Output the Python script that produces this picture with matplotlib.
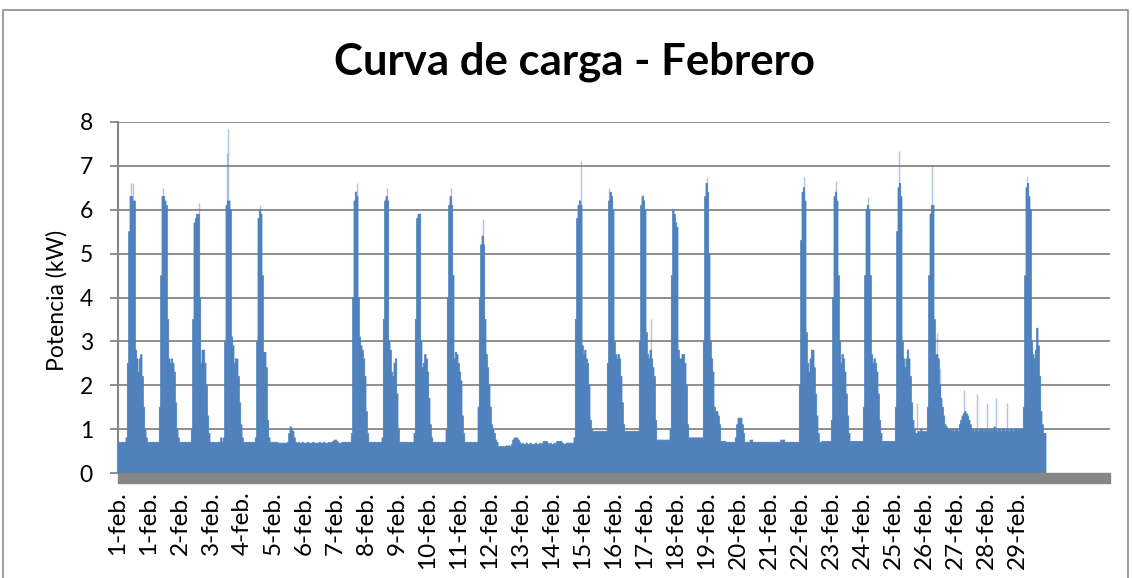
import numpy as np
import matplotlib
matplotlib.use("Agg")
import matplotlib.pyplot as plt
from matplotlib.patches import Rectangle
from matplotlib.lines import Line2D

# ---- data: hourly load (kW) for each day of February ----
d01 = [0.7,0.7,0.7,0.7,0.7,0.7,0.8,2.5,5.5,6.3,6.3,6.2,6.2,2.8,2.6,2.3,2.6,2.7,2.2,1.5,1.0,0.8,0.7,0.7]
d02 = [0.7,0.7,0.7,0.7,0.7,0.7,0.7,1.5,4.5,6.3,6.3,6.2,6.1,3.5,2.6,2.5,2.6,2.5,2.3,1.6,1.0,0.8,0.7,0.7]
d03 = [0.7,0.7,0.7,0.7,0.7,0.7,0.7,1.0,3.5,5.7,5.8,5.9,5.9,4.0,2.5,2.8,2.8,2.5,2.0,1.3,0.9,0.7,0.7,0.7]
d04 = [0.7,0.7,0.7,0.7,0.7,0.8,0.7,0.8,3.0,6.1,6.2,6.2,6.0,3.1,2.9,2.5,2.6,2.6,2.2,1.6,1.1,0.8,0.7,0.7]
d05 = [0.7,0.7,0.7,0.7,0.7,0.7,0.7,0.8,3.0,5.8,6.0,5.9,4.5,2.75,2.75,2.4,1.2,0.8,0.7,0.7,0.7,0.7,0.7,0.7]
d06 = [0.68,0.68,0.68,0.68,0.68,0.68,0.68,0.7,0.9,1.05,1.0,0.95,0.8,0.7,0.68,0.7,0.68,0.68,0.7,0.68,0.68,0.68,0.7,0.68]
d07 = [0.68,0.68,0.7,0.68,0.68,0.68,0.68,0.7,0.68,0.68,0.7,0.68,0.68,0.68,0.7,0.68,0.7,0.72,0.75,0.75,0.72,0.68,0.68,0.68]
d08 = [0.7,0.7,0.7,0.7,0.7,0.7,0.7,0.9,4.0,6.2,6.4,6.3,4.0,3.1,2.9,2.8,2.6,2.2,1.4,0.9,0.7,0.7,0.7,0.7]
d09 = [0.7,0.7,0.7,0.7,0.7,0.7,0.8,3.5,6.2,6.3,6.2,3.0,2.8,2.3,2.2,2.5,2.6,1.8,1.0,0.7,0.7,0.7,0.7,0.7]
d10 = [0.7,0.7,0.7,0.7,0.7,0.7,0.9,3.5,5.8,5.9,5.9,3.0,2.4,2.5,2.7,2.6,2.3,1.7,1.1,0.8,0.7,0.7,0.7,0.7]
d11 = [0.7,0.7,0.7,0.7,0.7,0.7,1.0,4.0,6.1,6.3,6.1,4.5,2.6,2.75,2.7,2.5,2.3,2.1,1.3,0.9,0.7,0.7,0.7,0.7]
d12 = [0.7,0.7,0.7,0.7,0.7,0.7,1.5,4.0,5.2,5.4,5.2,3.5,2.7,2.4,2.0,1.5,1.1,1.0,0.9,0.75,0.7,0.6,0.6,0.6]
d13 = [0.6,0.6,0.6,0.62,0.6,0.62,0.6,0.65,0.75,0.8,0.78,0.8,0.75,0.7,0.65,0.68,0.65,0.65,0.68,0.65,0.65,0.68,0.65,0.65]
d14 = [0.65,0.68,0.65,0.65,0.68,0.65,0.68,0.72,0.72,0.72,0.68,0.65,0.68,0.65,0.65,0.68,0.65,0.72,0.72,0.72,0.72,0.68,0.65,0.65]
d15 = [0.68,0.68,0.68,0.68,0.68,0.68,0.8,3.5,5.8,6.1,6.2,6.1,2.9,2.7,2.8,2.6,2.5,2.0,1.2,1.0,0.95,0.95,0.95,0.95]
d16 = [0.95,0.95,0.95,0.95,0.95,0.95,0.95,2.5,6.2,6.4,6.3,6.0,3.0,2.7,2.6,2.7,2.6,2.2,1.6,1.1,0.95,0.95,0.95,0.95]
d17 = [0.95,0.95,0.95,0.95,0.95,0.95,0.95,3.0,6.1,6.3,6.2,6.0,3.2,2.7,2.6,2.8,2.6,2.4,2.2,1.2,0.75,0.75,0.75,0.75]
d18 = [0.75,0.75,0.75,0.75,0.75,0.75,1.0,4.5,6.0,5.9,5.7,5.6,2.8,2.6,2.6,2.7,2.7,2.5,2.0,1.1,0.8,0.8,0.8,0.8]
d19 = [0.8,0.8,0.8,0.8,0.8,0.8,0.8,3.0,6.3,6.6,6.4,5.0,3.0,2.6,2.3,1.5,1.4,1.4,1.3,1.1,0.72,0.72,0.72,0.72]
d20 = [0.7,0.7,0.7,0.7,0.7,0.7,0.7,0.8,1.1,1.25,1.25,1.25,1.1,0.9,0.7,0.7,0.7,0.7,0.75,0.75,0.7,0.7,0.7,0.7]
d21 = [0.7,0.7,0.7,0.7,0.7,0.7,0.7,0.7,0.7,0.7,0.7,0.7,0.7,0.7,0.7,0.7,0.7,0.75,0.75,0.75,0.7,0.7,0.7,0.7]
d22 = [0.7,0.7,0.7,0.7,0.7,0.7,0.7,2.0,5.3,6.4,6.5,6.2,3.2,2.5,2.3,2.6,2.8,2.8,2.4,1.8,1.3,0.9,0.7,0.7]
d23 = [0.72,0.72,0.72,0.72,0.72,0.72,0.72,1.2,4.0,6.3,6.4,6.2,4.5,3.0,2.5,2.7,2.6,2.3,1.8,1.3,0.9,0.72,0.72,0.72]
d24 = [0.72,0.72,0.72,0.72,0.72,0.72,0.72,1.5,4.5,6.0,6.1,6.0,4.5,2.7,2.5,2.6,2.5,2.3,1.8,1.2,0.9,0.72,0.72,0.72]
d25 = [0.72,0.72,0.72,0.72,0.72,0.72,0.72,1.5,5.5,6.5,6.6,6.3,3.0,2.6,2.4,2.6,2.8,2.6,2.2,1.6,1.2,1.0,0.9,0.9]
d26 = [0.95,0.95,1.0,0.95,0.95,0.95,0.95,1.5,4.5,5.9,6.1,6.1,3.5,2.7,2.7,2.6,2.0,1.7,1.5,1.3,1.1,1.05,1.0,1.0]
d27 = [1.0,0.95,1.0,0.95,1.0,1.0,0.95,1.1,1.2,1.3,1.35,1.4,1.35,1.3,1.2,1.1,1.0,1.0,0.95,1.0,1.0,0.95,1.0,1.0]
d28 = [1.0,0.95,1.0,1.0,0.95,1.0,1.0,0.95,1.0,1.05,1.0,0.95,1.0,1.0,0.95,1.0,1.0,0.95,1.0,1.0,0.95,1.0,1.0,0.95]
d29 = [1.0,1.0,1.0,1.0,1.0,1.0,1.0,1.5,4.5,6.5,6.6,6.3,6.0,3.0,2.7,2.6,2.8,3.3,2.9,2.2,1.4,1.1,0.9,0.9]

days = [d01, d02, d03, d04, d05, d06, d07, d08, d09, d10, d11, d12, d13, d14, d15,
        d16, d17, d18, d19, d20, d21, d22, d23, d24, d25, d26, d27, d28, d29]

# short peaks (day index, hour, kW)
spike_day  = [0, 0, 1, 2, 3, 3, 4, 7, 8, 10, 11, 14, 15, 16, 16, 18, 21, 22, 23, 24, 25, 25, 25, 26, 26, 27, 27, 27, 28, 24]
spike_hour = [9, 11, 9, 12, 10, 9, 10, 11, 9, 9, 9, 11, 8, 9, 15, 9, 10, 10, 10, 9, 10, 14, 16, 10, 20, 3, 10, 18, 9, 23]
spike_kw   = [6.6, 6.6, 6.5, 6.15, 7.85, 7.3, 6.1, 6.6, 6.5, 6.5, 5.8, 7.1, 6.5, 6.35, 3.5, 6.75, 6.75, 6.65, 6.3, 7.35,
              7.0, 3.2, 2.4, 1.9, 1.8, 1.6, 1.7, 1.6, 6.75, 1.6]

tick_labels = ["1-feb.", "1-feb.", "2-feb.", "3-feb.", "4-feb.", "5-feb.", "6-feb.", "7-feb.", "8-feb.", "9-feb.",
               "10-feb.", "11-feb.", "12-feb.", "13-feb.", "14-feb.", "15-feb.", "16-feb.", "17-feb.", "18-feb.",
               "19-feb.", "20-feb.", "21-feb.", "22-feb.", "23-feb.", "24-feb.", "25-feb.", "26-feb.", "27-feb.",
               "28-feb.", "29-feb."]

title = "Curva de carga - Febrero"
ylabel = "Potencia (kW)"

# ---- figure ----
W, H = 1132, 578
fig = plt.figure(figsize=(W / 100, H / 100), dpi=100)
font = ["Lato", "DejaVu Sans"]
plt.rcParams["font.family"] = font

L, R, T, B = 118, 1110, 122, 473
ax = fig.add_axes([L / W, 1 - B / H, (R - L) / W, (B - T) / H])

BLUE = "#4F81BD"
GRID = "#868686"

values = np.concatenate([np.asarray(d, dtype=float) for d in days])
edges = np.arange(len(values) + 1)
n_hours_axis = 31 * 24

# light thin spikes (behind the area)
sx = np.asarray(spike_day) * 24 + np.asarray(spike_hour) + 0.5
ax.vlines(sx, 0, spike_kw, color=BLUE, alpha=0.45, lw=1.0, zorder=2)
ax.stairs(values, edges, fill=True, color=BLUE, linewidth=0.6, edgecolor=BLUE, zorder=3)

ax.set_xlim(0, n_hours_axis)
ax.set_ylim(0, 8)

ax.set_yticks(range(0, 9))
ax.set_yticklabels([str(i) for i in range(0, 9)], fontsize=16.5)
for y in range(1, 9):
    ax.axhline(y, color=GRID, lw=1.3, zorder=1)

xt = [k * 93 / 4 for k in range(len(tick_labels))]
ax.set_xticks(xt)
ax.set_xticklabels(tick_labels, rotation=90, fontsize=17.5, va="top", ha="center")
ax.tick_params(axis="x", length=0, pad=13)
ax.tick_params(axis="y", length=6, width=1.3, color=GRID, pad=12)

for s in ["top", "right", "bottom"]:
    ax.spines[s].set_visible(False)
ax.spines["left"].set_color(GRID)
ax.spines["left"].set_linewidth(1.5)

# floor bar under the plot area
fig.patches.append(Rectangle((L / W, 1 - (B + 10) / H), (R - L) / W, 10 / H,
                             transform=fig.transFigure, color=GRID, zorder=5))

fig.text(574 / W, 1 - 62 / H, title, ha="center", va="center", fontsize=31.5, fontweight="bold")
fig.text(57 / W, 1 - 300 / H, ylabel, ha="center", va="center", rotation=90, fontsize=16.5)

# chart border
bx0, by0, bx1 = 3 / W, 1 - 10 / H, 1128 / W
fig.lines.append(Line2D([bx0, bx0, bx1, bx1], [0, by0, by0, 0], transform=fig.transFigure,
                        color="#8C8C8C", lw=1.2))

fig.savefig("out.png", dpi=100)
